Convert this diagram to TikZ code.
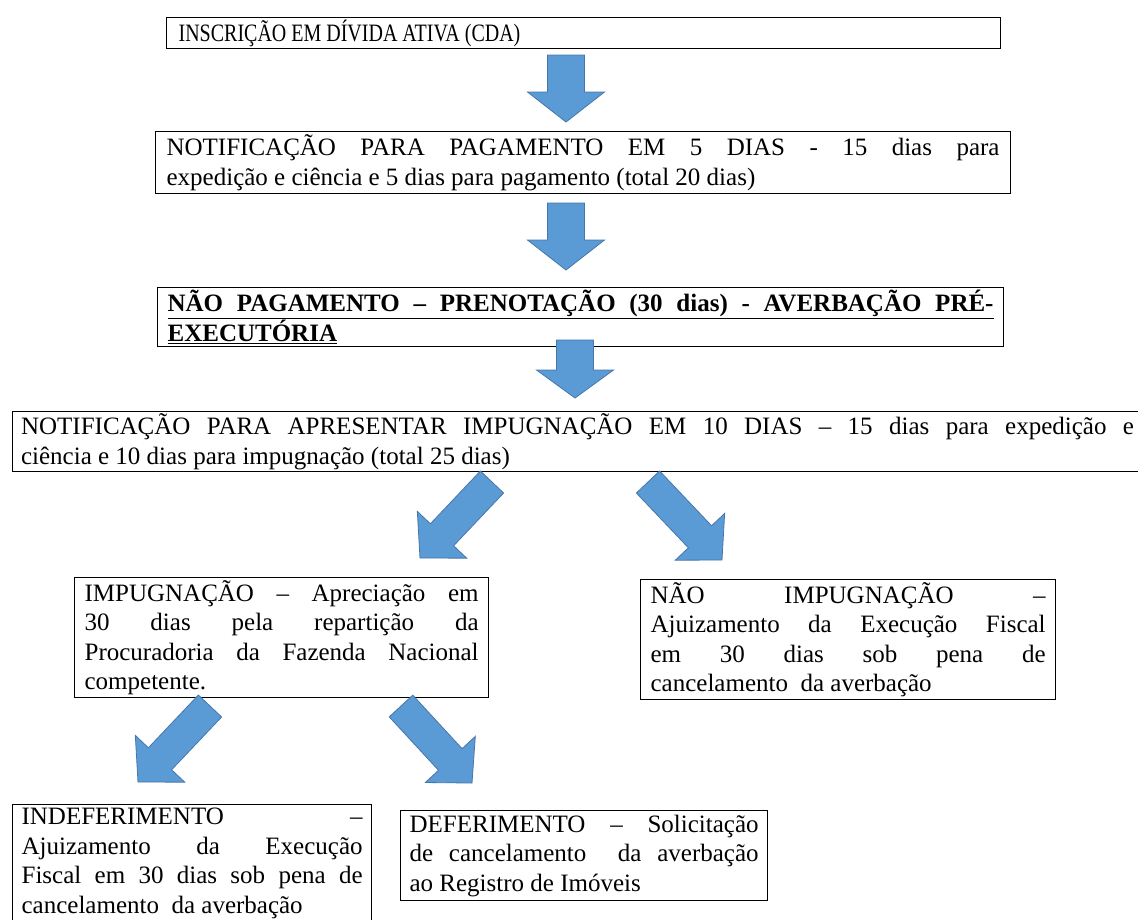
\documentclass[tikz,border=0pt]{standalone}
\usepackage{fontspec}
\setmainfont{Liberation Serif}
\usetikzlibrary{calc}
\definecolor{arrowblue}{RGB}{91,155,213}
\definecolor{arrowedge}{RGB}{70,118,170}
\newcommand{\jline}[1]{{\spaceskip=0.25em plus 20em\xspaceskip=0pt\makebox[\hsize][s]{#1}}}
\newcommand{\natsp}{\spaceskip=0pt\xspaceskip=0pt\relax}
\newcommand{\blkarrow}[5]{%
  \coordinate (hb) at ($(#2)!#5!(#1)$);
  \filldraw[blockarrow] ($(#1)!#3!90:(#2)$) -- ($(hb)!#3!90:(#2)$) -- ($(hb)!#4!90:(#2)$) -- (#2) -- ($(hb)!#4!-90:(#2)$) -- ($(hb)!#3!-90:(#2)$) -- ($(#1)!#3!-90:(#2)$) -- cycle;}
\tikzset{
  box/.style={draw=black, line width=1.2pt, anchor=north west, inner xsep=9pt, inner ysep=0pt,
    font=\fontsize{25}{29.5}\selectfont, align=left},
  blockarrow/.style={fill=arrowblue, draw=arrowedge, line width=0.8pt, line join=miter}
}
\begin{document}
\begin{tikzpicture}[x=1pt,y=-1pt]
\useasboundingbox (0,0) rectangle (1138,919);
\fill[white] (0,0) rectangle (1138,919);

% boxes
\node[box, minimum width=834pt, minimum height=31pt, text width=810pt, inner xsep=12pt] (cda) at (166,17)
  {\natsp\scalebox{0.8}[1]{INSCRIÇÃO EM DÍVIDA ATIVA (CDA)}};
\node[box, minimum width=855pt, minimum height=62pt, text width=833pt, inner xsep=11pt] (notif) at (155,131)
  {\natsp\jline{NOTIFICAÇÃO PARA PAGAMENTO EM 5 DIAS - 15 dias para}\\
   expedição e ciência e 5 dias para pagamento (total 20 dias)};
\node[box, minimum width=846pt, minimum height=59pt, text width=826pt, inner xsep=10pt] (naopag) at (157,287)
  {\natsp\bfseries\underline{\jline{NÃO PAGAMENTO – PRENOTAÇÃO (30 dias) - AVERBAÇÃO PRÉ-}}\\
   \underline{EXECUTÓRIA}};
\node[box, minimum width=1130pt, minimum height=60pt, text width=1113pt, inner xsep=8.5pt] (notimp) at (12,411)
  {\natsp\jline{NOTIFICAÇÃO PARA APRESENTAR IMPUGNAÇÃO EM 10 DIAS – 15 dias para expedição e}\\
   ciência e 10 dias para impugnação (total 25 dias)};
\node[box, minimum width=414pt, minimum height=120pt, text width=394pt, inner xsep=10pt] (imp) at (74,577)
  {\natsp\jline{IMPUGNAÇÃO – Apreciação em}\\
   \jline{30 dias pela repartição da}\\
   \jline{Procuradoria da Fazenda Nacional}\\
   competente.};
\node[box, minimum width=415pt, minimum height=120pt, text width=395pt, inner xsep=10pt] (naoimp) at (640,579)
  {\natsp\jline{NÃO IMPUGNAÇÃO –}\\
   \jline{Ajuizamento da Execução Fiscal}\\
   \jline{em 30 dias sob pena de}\\
   cancelamento\ \ da averbação};
\node[box, minimum width=359pt, minimum height=118pt, text width=341pt] (indef) at (12,804)
  {\natsp\jline{INDEFERIMENTO –}\\
   \jline{Ajuizamento da Execução}\\
   \jline{Fiscal em 30 dias sob pena de}\\
   cancelamento\ \ da averbação};
\draw[line width=1.2pt] (indef.south west) -- ++(0,10);
\draw[line width=1.2pt] (indef.south east) -- ++(0,10);
\node[box, minimum width=367pt, minimum height=90pt, text width=349pt] (def) at (400,810)
  {\natsp\jline{DEFERIMENTO – Solicitação}\\
   \jline{de cancelamento\ \ da averbação}\\
   ao Registro de Imóveis};

% arrows
\coordinate (a1s) at (566,55);  \coordinate (a1e) at (566,122);
\coordinate (a2s) at (566,203); \coordinate (a2e) at (566,270);
\coordinate (a3s) at (575,340); \coordinate (a3e) at (575,398);
\coordinate (a4s) at (492,482); \coordinate (a4e) at (420,558);
\coordinate (a5s) at (648,482); \coordinate (a5e) at (722,560);
\coordinate (a6s) at (210,706); \coordinate (a6e) at (138,782);
\coordinate (a7s) at (401,706); \coordinate (a7e) at (472,783);
\blkarrow{a1s}{a1e}{18.5pt}{38.5pt}{30pt}
\blkarrow{a2s}{a2e}{18.5pt}{38.5pt}{30pt}
\blkarrow{a3s}{a3e}{18.5pt}{38.5pt}{28pt}
\blkarrow{a4s}{a4e}{16pt}{34pt}{32pt}
\blkarrow{a5s}{a5e}{16pt}{34pt}{32pt}
\blkarrow{a6s}{a6e}{16pt}{34pt}{32pt}
\blkarrow{a7s}{a7e}{16pt}{34pt}{32pt}
\end{tikzpicture}
\end{document}
